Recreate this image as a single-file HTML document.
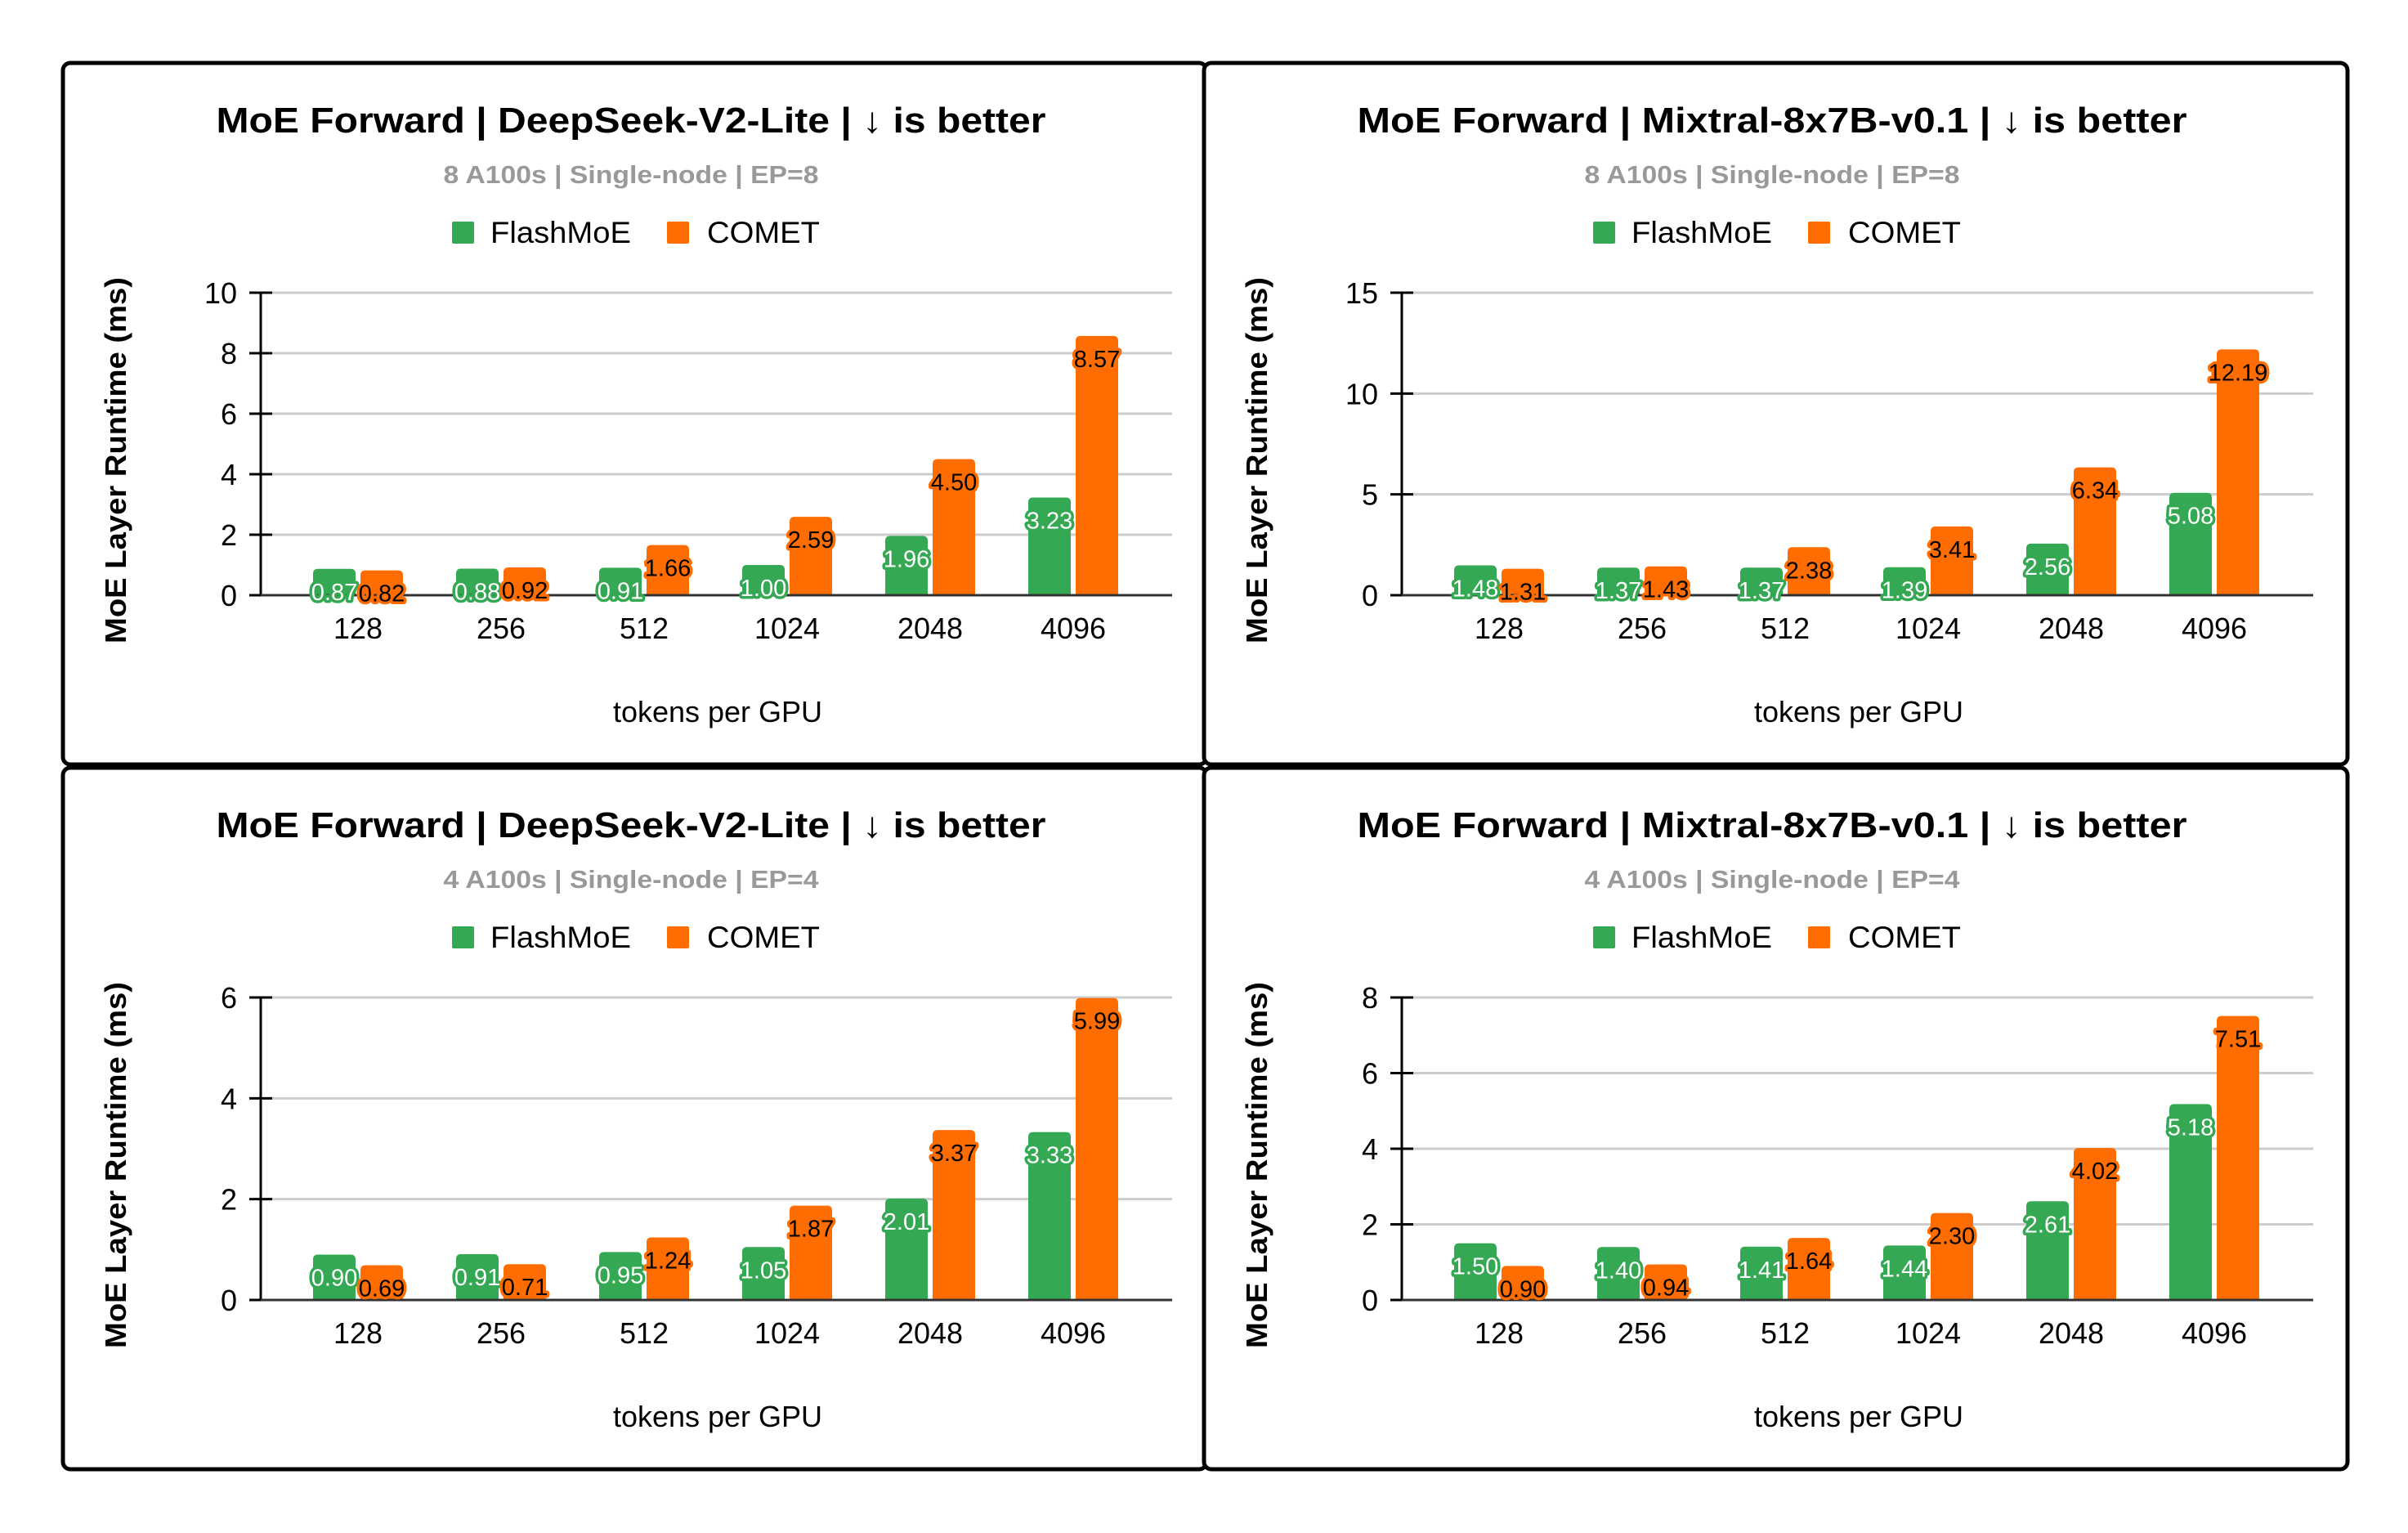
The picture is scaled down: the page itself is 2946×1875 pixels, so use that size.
<!DOCTYPE html>
<html><head><meta charset="utf-8"><style>
html,body{margin:0;padding:0;background:#fff;}
svg{display:block;font-family:"Liberation Sans",Arial,sans-serif;}
</style></head><body>
<svg id="root" width="2946" height="1875" viewBox="0 0 2946 1875" xmlns="http://www.w3.org/2000/svg"></svg>
<script>
const categories = ["128","256","512","1024","2048","4096"];
const ds8Flash = [0.87,0.88,0.91,1.00,1.96,3.23];
const ds8Comet = [0.82,0.92,1.66,2.59,4.50,8.57];
const mx8Flash = [1.48,1.37,1.37,1.39,2.56,5.08];
const mx8Comet = [1.31,1.43,2.38,3.41,6.34,12.19];
const ds4Flash = [0.90,0.91,0.95,1.05,2.01,3.33];
const ds4Comet = [0.69,0.71,1.24,1.87,3.37,5.99];
const mx4Flash = [1.50,1.40,1.41,1.44,2.61,5.18];
const mx4Comet = [0.90,0.94,1.64,2.30,4.02,7.51];
const ticksDs8 = [0,2,4,6,8,10];
const ticksMx8 = [0,5,10,15];
const ticksDs4 = [0,2,4,6];
const ticksMx4 = [0,2,4,6,8];
const titles = ["MoE Forward | DeepSeek-V2-Lite | \u2193 is better","MoE Forward | Mixtral-8x7B-v0.1 | \u2193 is better"];
const subtitles = ["8 A100s | Single-node | EP=8","4 A100s | Single-node | EP=4"];

const NS="http://www.w3.org/2000/svg";
const root=document.getElementById('root');
function mk(tag,attrs,parent,text){const e=document.createElementNS(NS,tag);for(const k in attrs)e.setAttribute(k,attrs[k]);if(text!==undefined)e.textContent=text;(parent||root).appendChild(e);return e;}

const panels=[
 {dx:0,dy:0,flash:ds8Flash,comet:ds8Comet,ticks:ticksDs8,t:0,s:0,name:'deepseek-ep8'},
 {dx:1396,dy:0,flash:mx8Flash,comet:mx8Comet,ticks:ticksMx8,t:1,s:0,name:'mixtral-ep8'},
 {dx:0,dy:862,flash:ds4Flash,comet:ds4Comet,ticks:ticksDs4,t:0,s:1,name:'deepseek-ep4'},
 {dx:1396,dy:862,flash:mx4Flash,comet:mx4Comet,ticks:ticksMx4,t:1,s:1,name:'mixtral-ep4'}
];
panels.forEach(p=>{
 const g=mk('g',{transform:`translate(${p.dx},${p.dy})`});
 
 
 const fr=mk('rect',{x:77,y:77,width:1399,height:858,rx:9,fill:'#fff',stroke:'#000','stroke-width':5},g);
 
 
 const t=mk('text',{x:772,y:162,'text-anchor':'middle','font-size':44,'font-weight':'bold',fill:'#000',textLength:1015,lengthAdjust:'spacingAndGlyphs'},g,titles[p.t]);
 
 
 const st=mk('text',{x:772,y:224,'text-anchor':'middle','font-size':31,'font-weight':'bold',fill:'#999',textLength:459,lengthAdjust:'spacingAndGlyphs'},g,subtitles[p.s]);
 
 
 const l1=mk('rect',{x:553,y:271,width:27,height:27,rx:2,fill:'#34a853'},g);
 
 
 const lt1=mk('text',{x:600,y:297,'font-size':37,fill:'#000',textLength:172,lengthAdjust:'spacingAndGlyphs'},g,'FlashMoE');
 
 
 const l2=mk('rect',{x:816,y:271,width:27,height:27,rx:2,fill:'#ff6d01'},g);
 
 
 const lt2=mk('text',{x:865,y:297,'font-size':37,fill:'#000',textLength:138,lengthAdjust:'spacingAndGlyphs'},g,'COMET');
 
 
 const axL=319, axR=1434, base=728, top=358;
 const ymax=p.ticks[p.ticks.length-1];
 const y=v=>base-(v/ymax)*(base-top);
 const band=175.0, x0=438;
 const xc=i=>x0+i*band;
 p.ticks.forEach(tv=>{
  if(tv>0){const gl=mk('line',{x1:axL,x2:axR,y1:y(tv),y2:y(tv),stroke:'#ccc','stroke-width':3},g);
  
  }
  const tk=mk('line',{x1:axL-14,x2:axL+14,y1:y(tv),y2:y(tv),stroke:'#000','stroke-width':3},g);
  
  
  const tl=mk('text',{x:290,y:y(tv)+13,'text-anchor':'end','font-size':36,fill:'#000'},g,String(tv));
  
  
 });
 const ya=mk('line',{x1:axL,x2:axL,y1:top,y2:base,stroke:'#000','stroke-width':3},g);
 
 
 const bw=52, gap=6;
 const bars=(vals,color,off,ser)=>vals.forEach((v,i)=>{
  const bx=xc(i)+off, by=y(v);
  const b=mk('path',{d:`M${bx},${base}V${by+6}Q${bx},${by} ${bx+6},${by}H${bx+bw-6}Q${bx+bw},${by} ${bx+bw},${by+6}V${base}Z`,fill:color},g);
  
  
 });
 bars(p.flash,'#34a853',-(bw+gap/2),'flashmoe');
 bars(p.comet,'#ff6d01',gap/2,'comet');
 const xa=mk('line',{x1:axL,x2:axR,y1:base,y2:base,stroke:'#333','stroke-width':3},g);
 
 
 const labels=(vals,fill,stroke,off,ser)=>vals.forEach((v,i)=>{
  const cx=xc(i)+off, cy=Math.min(y(v)+28,base);
  const lb=mk('text',{x:cx,y:cy+10,'text-anchor':'middle','font-size':29,fill:fill,stroke:stroke,'stroke-width':7,'paint-order':'stroke','stroke-linejoin':'round'},g,v.toFixed(2));
  
  
 });
 labels(p.flash,'#fff','#34a853',-(bw/2+gap/2),'flashmoe');
 labels(p.comet,'#000','#ff6d01',bw/2+gap/2,'comet');
 categories.forEach((c,i)=>{
  const xl=mk('text',{x:xc(i),y:781,'text-anchor':'middle','font-size':36,fill:'#000'},g,c);
  
  
 });
 const xt=mk('text',{x:878,y:883,'text-anchor':'middle','font-size':36,fill:'#000'},g,'tokens per GPU');
 
 
 const yt=mk('text',{x:0,y:0,transform:'translate(154,563) rotate(-90)','text-anchor':'middle','font-size':36,'font-weight':'bold',fill:'#000',textLength:448,lengthAdjust:'spacingAndGlyphs'},g,'MoE Layer Runtime (ms)');
 
 
});
</script>
</body></html>
